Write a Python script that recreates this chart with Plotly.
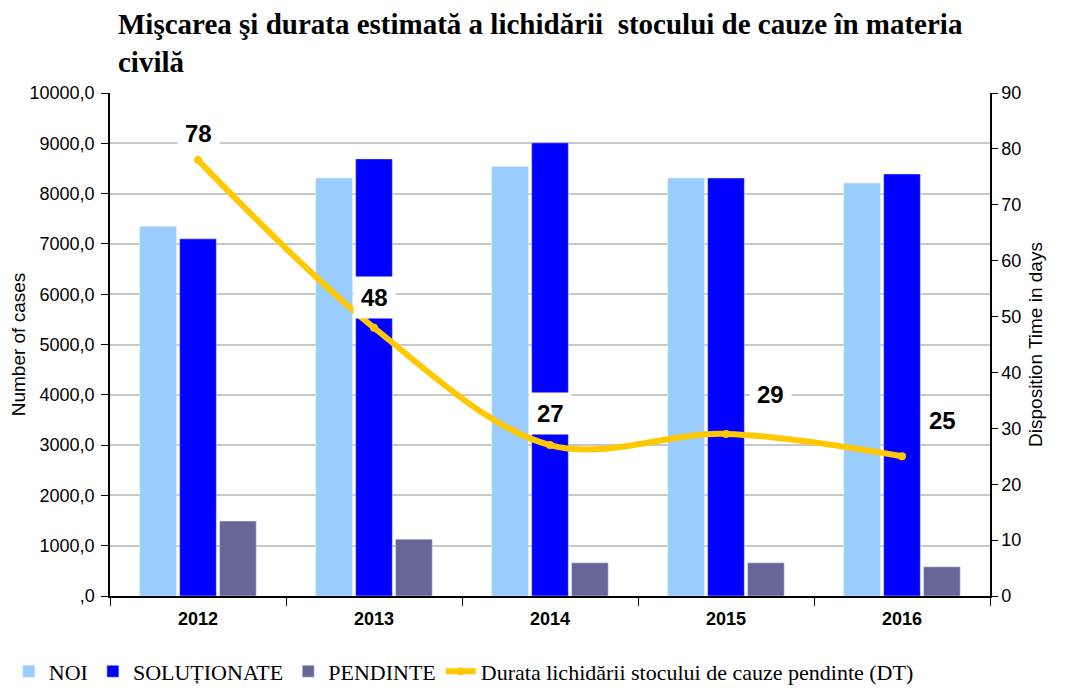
import plotly.graph_objects as go

years = ["2012", "2013", "2014", "2015", "2016"]
noi = [7350, 8310, 8540, 8310, 8210]
solutionate = [7100, 8690, 9010, 8310, 8390]
pendinte = [1490, 1130, 660, 660, 580]
dt = [78, 48, 27, 29, 25]

left_tickvals = [0, 1000, 2000, 3000, 4000, 5000, 6000, 7000, 8000, 9000, 10000]
left_ticktext = [",0", "1000,0", "2000,0", "3000,0", "4000,0", "5000,0",
                 "6000,0", "7000,0", "8000,0", "9000,0", "10000,0"]
right_tickvals = [0, 10, 20, 30, 40, 50, 60, 70, 80, 90]

# label pixel offsets (xshift, yshift) for DT labels
label_shifts = [(0, 27), (0, 30), (0, 32), (44, 39), (40, 36)]

fig = go.Figure()
fig.add_trace(go.Bar(x=years, y=noi, name="NOI", marker_color="#99CCFF"))
fig.add_trace(go.Bar(x=years, y=solutionate, name="SOLUȚIONATE", marker_color="#0000FF"))
fig.add_trace(go.Bar(x=years, y=pendinte, name="PENDINTE", marker_color="#666699"))
fig.add_trace(go.Scatter(
    x=years, y=dt, name="Durata lichidării stocului de cauze pendinte (DT)",
    yaxis="y2", mode="lines+markers",
    line=dict(color="#FFC800", width=6, shape="spline", smoothing=1.0),
    marker=dict(color="#FFC800", size=8),
))

annotations = []
for i, (v, (dx, dy)) in enumerate(zip(dt, label_shifts)):
    annotations.append(dict(
        x=i, y=v, xref="x", yref="y2", text=f"<b>{v}</b>", showarrow=False,
        xshift=dx, yshift=dy, bgcolor="white", borderpad=7,
        font=dict(family="Liberation Sans, Arial", size=24, color="black"),
    ))

fig.update_layout(
    width=1085, height=688,
    margin=dict(l=102, r=103, t=85, b=100, autoexpand=False),
    paper_bgcolor="white", plot_bgcolor="white",
    barmode="group", bargap=0.32, bargroupgap=0.08,
    title=dict(
        text="<b>Mişcarea şi durata estimată a lichidării  stocului de cauze în materia<br>civilă</b>",
        x=110 / 1085, xref="container", xanchor="left",
        y=0.962, yref="container", yanchor="middle",
        font=dict(family="Liberation Serif, Times New Roman", size=29, color="black"),
    ),
    font=dict(family="Liberation Sans, Arial", color="black"),
    xaxis=dict(
        type="category", range=[-0.5, 4.5], automargin=False,
        showline=True, linecolor="black", linewidth=1.5,
        ticks="outside", tickson="boundaries", ticklen=8, tickcolor="black",
        ticklabelstandoff=6,
        tickfont=dict(size=18, family="Liberation Sans, Arial", color="black", weight="bold"),
        tickangle=0, showgrid=False,
    ),
    yaxis=dict(
        range=[0, 10000], tickvals=left_tickvals, ticktext=left_ticktext,
        automargin=False,
        showline=True, linecolor="black", linewidth=1.5,
        ticks="outside", ticklen=7, tickcolor="black", ticklabelstandoff=3,
        tickfont=dict(size=18, color="black"),
        showgrid=True, gridcolor="#C8C8C8", gridwidth=1.5,
        title=dict(text="Number of cases", font=dict(size=19, color="black"), standoff=2),
        zeroline=False,
    ),
    yaxis2=dict(
        range=[0, 90], tickvals=right_tickvals, overlaying="y", side="right",
        automargin=False,
        showline=True, linecolor="black", linewidth=1.5,
        ticks="outside", ticklen=6, tickcolor="black",
        tickfont=dict(size=18, color="black"),
        showgrid=False, zeroline=False,
        title=dict(text="Disposition Time in days", font=dict(size=19, color="black"), standoff=8),
    ),
    legend=dict(
        orientation="h", x=-0.115, xanchor="left", y=-0.15, yanchor="middle",
        font=dict(family="Liberation Serif, Times New Roman", size=22, color="black"),
        tracegroupgap=0,
    ),
    annotations=annotations,
    showlegend=True,
)

fig.write_html("out.html")
